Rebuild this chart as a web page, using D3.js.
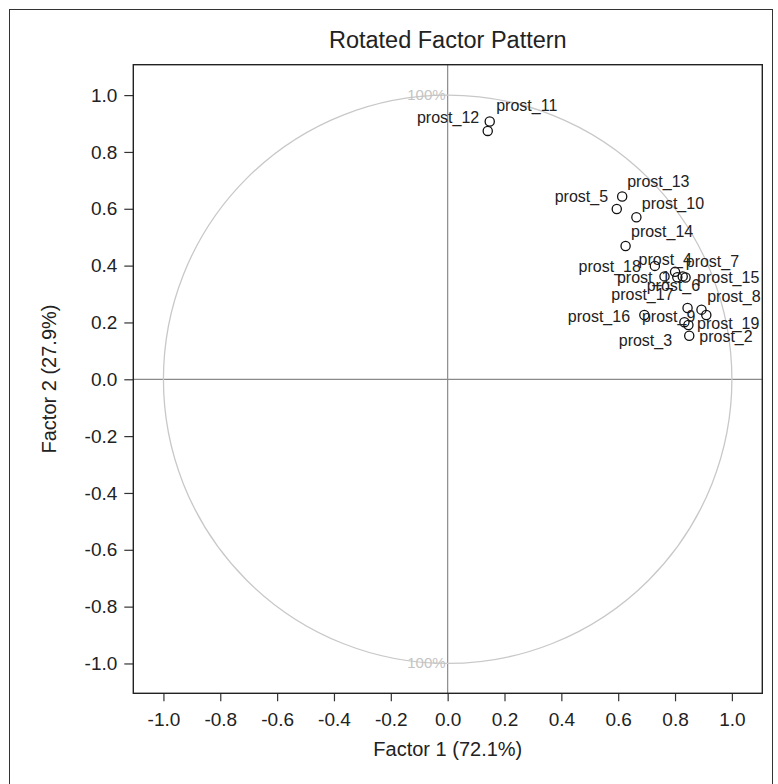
<!DOCTYPE html>
<html>
<head>
<meta charset="utf-8">
<script src="https://cdn.jsdelivr.net/npm/d3@7"></script>
<style>
  html, body { margin: 0; padding: 0; background: #fff; }
  svg { display: block; font-family: "Liberation Sans", Arial, sans-serif; }
</style>
</head>
<body>
<svg id="chart" width="778" height="784"></svg>
<script>
// ---- data ----
const variables = ["prost_11","prost_12","prost_13","prost_5","prost_10","prost_14","prost_18","prost_4","prost_7","prost_1","prost_15","prost_6","prost_17","prost_8","prost_16","prost_9","prost_19","prost_2","prost_3"];
const factor1 = [0.148,0.141,0.614,0.595,0.664,0.626,0.729,0.763,0.800,0.808,0.837,0.827,0.844,0.893,0.692,0.910,0.847,0.850,0.833];
const factor2 = [0.907,0.874,0.643,0.599,0.570,0.469,0.399,0.362,0.378,0.359,0.358,0.362,0.251,0.245,0.226,0.226,0.191,0.153,0.201];
const xTicks = [-1.0,-0.8,-0.6,-0.4,-0.2,0.0,0.2,0.4,0.6,0.8,1.0];
const yTicks = [-1.0,-0.8,-0.6,-0.4,-0.2,0.0,0.2,0.4,0.6,0.8,1.0];
const titleText = "Rotated Factor Pattern";
const xLabel = "Factor 1 (72.1%)";
const yLabel = "Factor 2 (27.9%)";
const circleLabel = "100%";

// ---- label layout (pixel offsets from the marker, anchor) ----
const labelLayout = [
  [6.5,-10.5,"start"],[-8.5,-8,"end"],[5,-9.5,"start"],[-8.7,-7.5,"end"],[5.4,-8.5,"start"],
  [5.4,-9.5,"start"],[-14,6,"end"],[0.7,-11,"middle"],[10.7,-5,"start"],[-7,5.6,"end"],
  [11.5,5.6,"start"],[-9.3,15,"middle"],[-14,-7.5,"end"],[5.7,-7.5,"start"],[-14.3,7,"end"],
  [-11,7,"end"],[8.7,3.5,"start"],[10,6,"start"],[-12.3,24,"end"]
];

const svg = d3.select("#chart");
const L = 133.3, R = 762.3, T = 64.7, B = 693.3;
const x = d3.scaleLinear().domain([-1.106, 1.107]).range([L, R]);
const y = d3.scaleLinear().domain([-1.105, 1.107]).range([B, T]);

// outer frame
svg.append("rect").attr("x", 9.5).attr("y", 9.5).attr("width", 763).attr("height", 800)
  .attr("fill", "none").attr("stroke", "#333").attr("stroke-width", 1);

// title
svg.append("text").attr("x", (L + R) / 2).attr("y", 48).attr("text-anchor", "middle")
  .attr("font-size", 23.5).attr("fill", "#222").text(titleText);

const plot = svg.append("g");

// reference lines
plot.append("line").attr("x1", x(0)).attr("x2", x(0)).attr("y1", T).attr("y2", B)
  .attr("stroke", "#8a8a8a").attr("stroke-width", 1.2);
plot.append("line").attr("x1", L).attr("x2", R).attr("y1", y(0)).attr("y2", y(0))
  .attr("stroke", "#8a8a8a").attr("stroke-width", 1.2);

// unit circle
plot.append("ellipse").attr("cx", x(0)).attr("cy", y(0))
  .attr("rx", x(1) - x(0)).attr("ry", y(0) - y(1))
  .attr("fill", "none").attr("stroke", "#c8c8c8").attr("stroke-width", 1.3);

// 100% labels
[1, -1].forEach(v => {
  plot.append("text").attr("x", x(0) - 2).attr("y", y(v) + 5)
    .attr("text-anchor", "end").attr("font-size", 15).attr("fill", "#c4c4c4").text(circleLabel);
});

// points
const pts = variables.map((n, i) => ({ name: n, f1: factor1[i], f2: factor2[i], lay: labelLayout[i] }));
plot.selectAll("circle.pt").data(pts).enter().append("circle").attr("class", "pt")
  .attr("cx", d => x(d.f1)).attr("cy", d => y(d.f2)).attr("r", 4.6)
  .attr("fill", "none").attr("stroke", "#111").attr("stroke-width", 1.3);
plot.selectAll("text.lbl").data(pts).enter().append("text").attr("class", "lbl")
  .attr("x", d => x(d.f1) + d.lay[0]).attr("y", d => y(d.f2) + d.lay[1])
  .attr("text-anchor", d => d.lay[2]).attr("font-size", 16).attr("fill", "#222").text(d => d.name);

// axes
const fmt = v => d3.format(".1f")(v).replace("\u2212", "-");
const xAxis = svg.append("g").attr("transform", `translate(0,${B})`)
  .call(d3.axisBottom(x).tickValues(xTicks).tickFormat(fmt).tickSize(8).tickPadding(11));
const yAxis = svg.append("g").attr("transform", `translate(${L},0)`)
  .call(d3.axisLeft(y).tickValues(yTicks).tickFormat(fmt).tickSize(9).tickPadding(7));
[xAxis, yAxis].forEach(g => {
  g.select(".domain").remove();
  g.selectAll(".tick line").attr("stroke", "#333").attr("stroke-width", 1.2);
  g.selectAll(".tick text").attr("font-size", 19).attr("fill", "#222")
    .attr("font-family", "'Liberation Sans', Arial, sans-serif");
});

// plot frame
svg.append("rect").attr("x", L).attr("y", T).attr("width", R - L).attr("height", B - T)
  .attr("fill", "none").attr("stroke", "#222").attr("stroke-width", 1.4);

// axis titles
svg.append("text").attr("x", (L + R) / 2).attr("y", 756).attr("text-anchor", "middle")
  .attr("font-size", 20).attr("fill", "#222").text(xLabel);
svg.append("text").attr("transform", `translate(56,${(T + B) / 2}) rotate(-90)`)
  .attr("text-anchor", "middle").attr("font-size", 20).attr("fill", "#222").text(yLabel);
</script>
</body>
</html>
